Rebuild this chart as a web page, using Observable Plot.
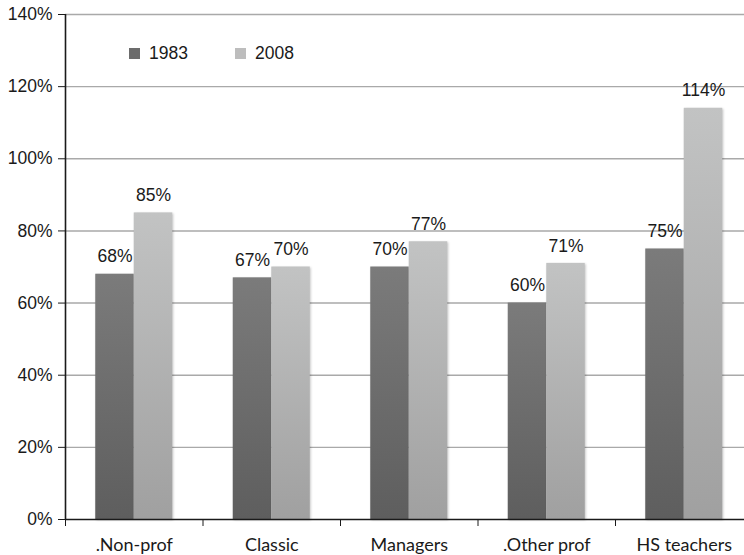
<!DOCTYPE html>
<html>
<head>
<meta charset="utf-8">
<script src="https://cdn.jsdelivr.net/npm/d3@7"></script>
<script src="https://cdn.jsdelivr.net/npm/@observablehq/plot@0.6"></script>
<style>
  html, body { margin: 0; padding: 0; background: #fff; }
  #chart { position: relative; width: 744px; height: 555px; overflow: hidden; }
  #legend { position: absolute; left: 129px; top: 37px; }
  .yr-swatch { margin-right: 47px !important; }
  .yr-swatch > svg { margin-right: 9px !important; }
  g[aria-label="rect"] rect { filter: drop-shadow(1px 1px 1.2px rgba(0,0,0,0.22)); }
</style>
</head>
<body>
<div id="chart"><div id="legend"></div></div>
<script>
// Occupational categories and the ratio (in %) for each survey year
const categories = [".Non-prof", "Classic", "Managers", ".Other prof", "HS teachers"];
const years = ["1983", "2008"];
const share1983 = [68, 67, 70, 60, 75];
const share2008 = [85, 70, 77, 71, 114];
const yTicks = [0, 20, 40, 60, 80, 100, 120, 140];

// Where each year's bar sits inside its category slot (fraction of the slot)
const slot = {"1983": [0.22, 0.5], "2008": [0.5, 0.78]};
const swatchColors = ["#6c6c6c", "#bdbdbd"];

const rows = [];
categories.forEach((c, i) => {
  rows.push({category: c, index: i, year: "1983", value: share1983[i]});
  rows.push({category: c, index: i, year: "2008", value: share2008[i]});
});

const chart = Plot.plot({
  width: 744,
  height: 555,
  marginLeft: 65,
  marginRight: 0,
  marginTop: 14,
  marginBottom: 36,
  style: {fontFamily: "'Liberation Sans', Arial, sans-serif", fontSize: "17.5px", color: "#1a1a1a", background: "#fff"},
  x: {domain: [0, 5], range: [65, 752.5], ticks: [0, 1, 2, 3, 4, 5], tickFormat: () => "", tickSize: 7, label: null},
  y: {domain: [0, 140], ticks: yTicks, tickFormat: d => d + "%", tickSize: 7, tickPadding: 6, label: null},
  marks: [
    Plot.ruleY(yTicks.filter(t => t > 0), {stroke: "#a9a9a9", strokeWidth: 1.4}),
    Plot.rectY(rows, {
      x1: d => d.index + slot[d.year][0],
      x2: d => d.index + slot[d.year][1],
      y: "value",
      fill: d => d.year === "1983" ? "url(#grad1983)" : "url(#grad2008)"
    }),
    Plot.text(rows, {
      x: d => d.index + (slot[d.year][0] + slot[d.year][1]) / 2,
      y: "value",
      text: d => d.value + "%",
      dy: -17.5,
      fill: "#1a1a1a"
    }),
    Plot.text(categories, {
      x: (d, i) => i + 0.5,
      y: () => 0,
      text: d => d,
      dy: 26,
      fontFamily: "Lato, sans-serif",
      fontSize: 18,
      fill: "#1a1a1a"
    }),
    Plot.ruleY([0], {stroke: "#1a1a1a", strokeWidth: 1.6}),
    Plot.ruleX([0], {stroke: "#1a1a1a", strokeWidth: 1.6})
  ]
});

// Vertical shading for the two bar series
const ns = "http://www.w3.org/2000/svg";
const defs = document.createElementNS(ns, "defs");
[["grad1983", "#7b7b7b", "#5e5e5e"], ["grad2008", "#c2c3c3", "#a0a0a0"]].forEach(([id, top, bottom]) => {
  const g = document.createElementNS(ns, "linearGradient");
  g.setAttribute("id", id);
  g.setAttribute("x1", "0"); g.setAttribute("y1", "0");
  g.setAttribute("x2", "0"); g.setAttribute("y2", "1");
  [["0", top], ["1", bottom]].forEach(([o, c]) => {
    const s = document.createElementNS(ns, "stop");
    s.setAttribute("offset", o);
    s.setAttribute("stop-color", c);
    g.appendChild(s);
  });
  defs.appendChild(g);
});
chart.insertBefore(defs, chart.firstChild);
document.getElementById("chart").insertBefore(chart, document.getElementById("legend"));

const legend = Plot.legend({
  color: {type: "ordinal", domain: years, range: swatchColors},
  legend: "swatches",
  swatchSize: 11,
  className: "yr",
  style: {fontFamily: "'Liberation Sans', Arial, sans-serif", fontSize: "17.5px", color: "#1a1a1a"}
});
document.getElementById("legend").appendChild(legend);
</script>
</body>
</html>
